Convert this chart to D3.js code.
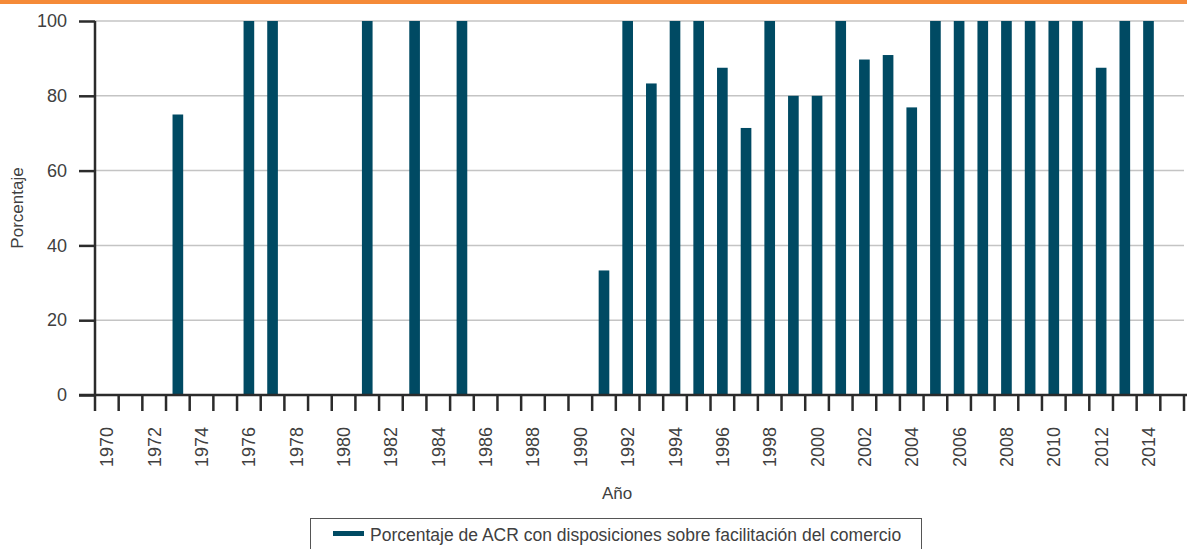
<!DOCTYPE html>
<html><head><meta charset="utf-8">
<script src="https://cdn.jsdelivr.net/npm/d3@7"></script>
<style>body{margin:0;background:#fff}svg{display:block;font-family:"Liberation Sans",Arial,sans-serif}</style>
</head><body><svg id="c" width="1187" height="549"></svg>
<script>
const years = d3.range(1970, 2016);
const values = {1973:75,1976:100,1977:100,1981:100,1983:100,1985:100,1991:33.3,1992:100,1993:83.3,1994:100,1995:100,1996:87.5,1997:71.4,1998:100,1999:80,2000:80,2001:100,2002:89.7,2003:90.9,2004:76.9,2005:100,2006:100,2007:100,2008:100,2009:100,2010:100,2011:100,2012:87.5,2013:100,2014:100};
const yTicks = [0,20,40,60,80,100];
const xLabels = d3.range(1970, 2015, 2);
const legendLabel = "Porcentaje de ACR con disposiciones sobre facilitación del comercio";

const svg = d3.select("#c");
const L = 95, R = 1184, T = 21, B = 395;
const txt = "#404040";
const x = d3.scaleBand().domain(years).range([L, R]).paddingInner(0.55).paddingOuter(0.275);
const y = d3.scaleLinear().domain([0,100]).range([B, T]);

svg.append("rect").attr("x",0).attr("y",0).attr("width",1187).attr("height",4).attr("fill","#F58A38");

// gridlines
svg.append("g").selectAll("line").data(yTicks.filter(d=>d>0)).join("line")
  .attr("x1",L).attr("x2",R).attr("y1",d=>y(d)).attr("y2",d=>y(d))
  .attr("stroke","#c4c4c4").attr("stroke-width",1.5);

// bars
const data = years.filter(yr => values[yr] != null).map(yr => ({yr, v: values[yr]}));
svg.append("g").selectAll("rect").data(data).join("rect")
  .attr("x", d=>x(d.yr)).attr("width", x.bandwidth())
  .attr("y", d=>y(d.v)).attr("height", d=>B - y(d.v))
  .attr("fill","#004A63");

// y axis
const yAxis = svg.append("g").attr("transform",`translate(${L},0)`)
  .call(d3.axisLeft(y).tickValues(yTicks).tickSize(16).tickPadding(12));
yAxis.select(".domain").attr("stroke","#2b2b2b").attr("stroke-width",2.5).attr("d",`M0,${T}V${B}`);
yAxis.selectAll(".tick line").attr("stroke","#2b2b2b").attr("stroke-width",2.5);
yAxis.selectAll(".tick text").attr("font-size",18).attr("fill",txt).attr("font-family","Liberation Sans, Arial, sans-serif");

// x axis line and boundary ticks
const step = x.step();
const bounds = d3.range(0, years.length + 1).map(i => L + i*step);
svg.append("line").attr("x1",L-16).attr("x2",1187).attr("y1",B).attr("y2",B).attr("stroke","#2b2b2b").attr("stroke-width",2.5);
svg.append("g").selectAll("line").data(bounds).join("line")
  .attr("x1",d=>d).attr("x2",d=>d).attr("y1",B).attr("y2",B+16)
  .attr("stroke","#2b2b2b").attr("stroke-width",2.5);
svg.append("g").selectAll("text").data(xLabels).join("text")
  .attr("transform", d=>`translate(${x(d)+x.bandwidth()/2+6.5},${427}) rotate(-90)`)
  .attr("text-anchor","end").attr("font-size",18).attr("fill",txt).text(d=>d);

// axis titles
svg.append("text").attr("x",617).attr("y",499).attr("text-anchor","middle").attr("font-size",17).attr("fill",txt).text("Año");
svg.append("text").attr("transform","translate(23,208) rotate(-90)").attr("text-anchor","middle").attr("font-size",17).attr("fill",txt).text("Porcentaje");

// legend
const lg = svg.append("g");
lg.append("rect").attr("x",310.5).attr("y",518.5).attr("width",611).attr("height",40).attr("fill","none").attr("stroke","#555").attr("stroke-width",1);
lg.append("rect").attr("x",333).attr("y",531).attr("width",31).attr("height",5).attr("fill","#004A63");
lg.append("text").attr("x",370).attr("y",541).attr("font-size",17.5).attr("fill",txt).text(legendLabel);
</script></body></html>
